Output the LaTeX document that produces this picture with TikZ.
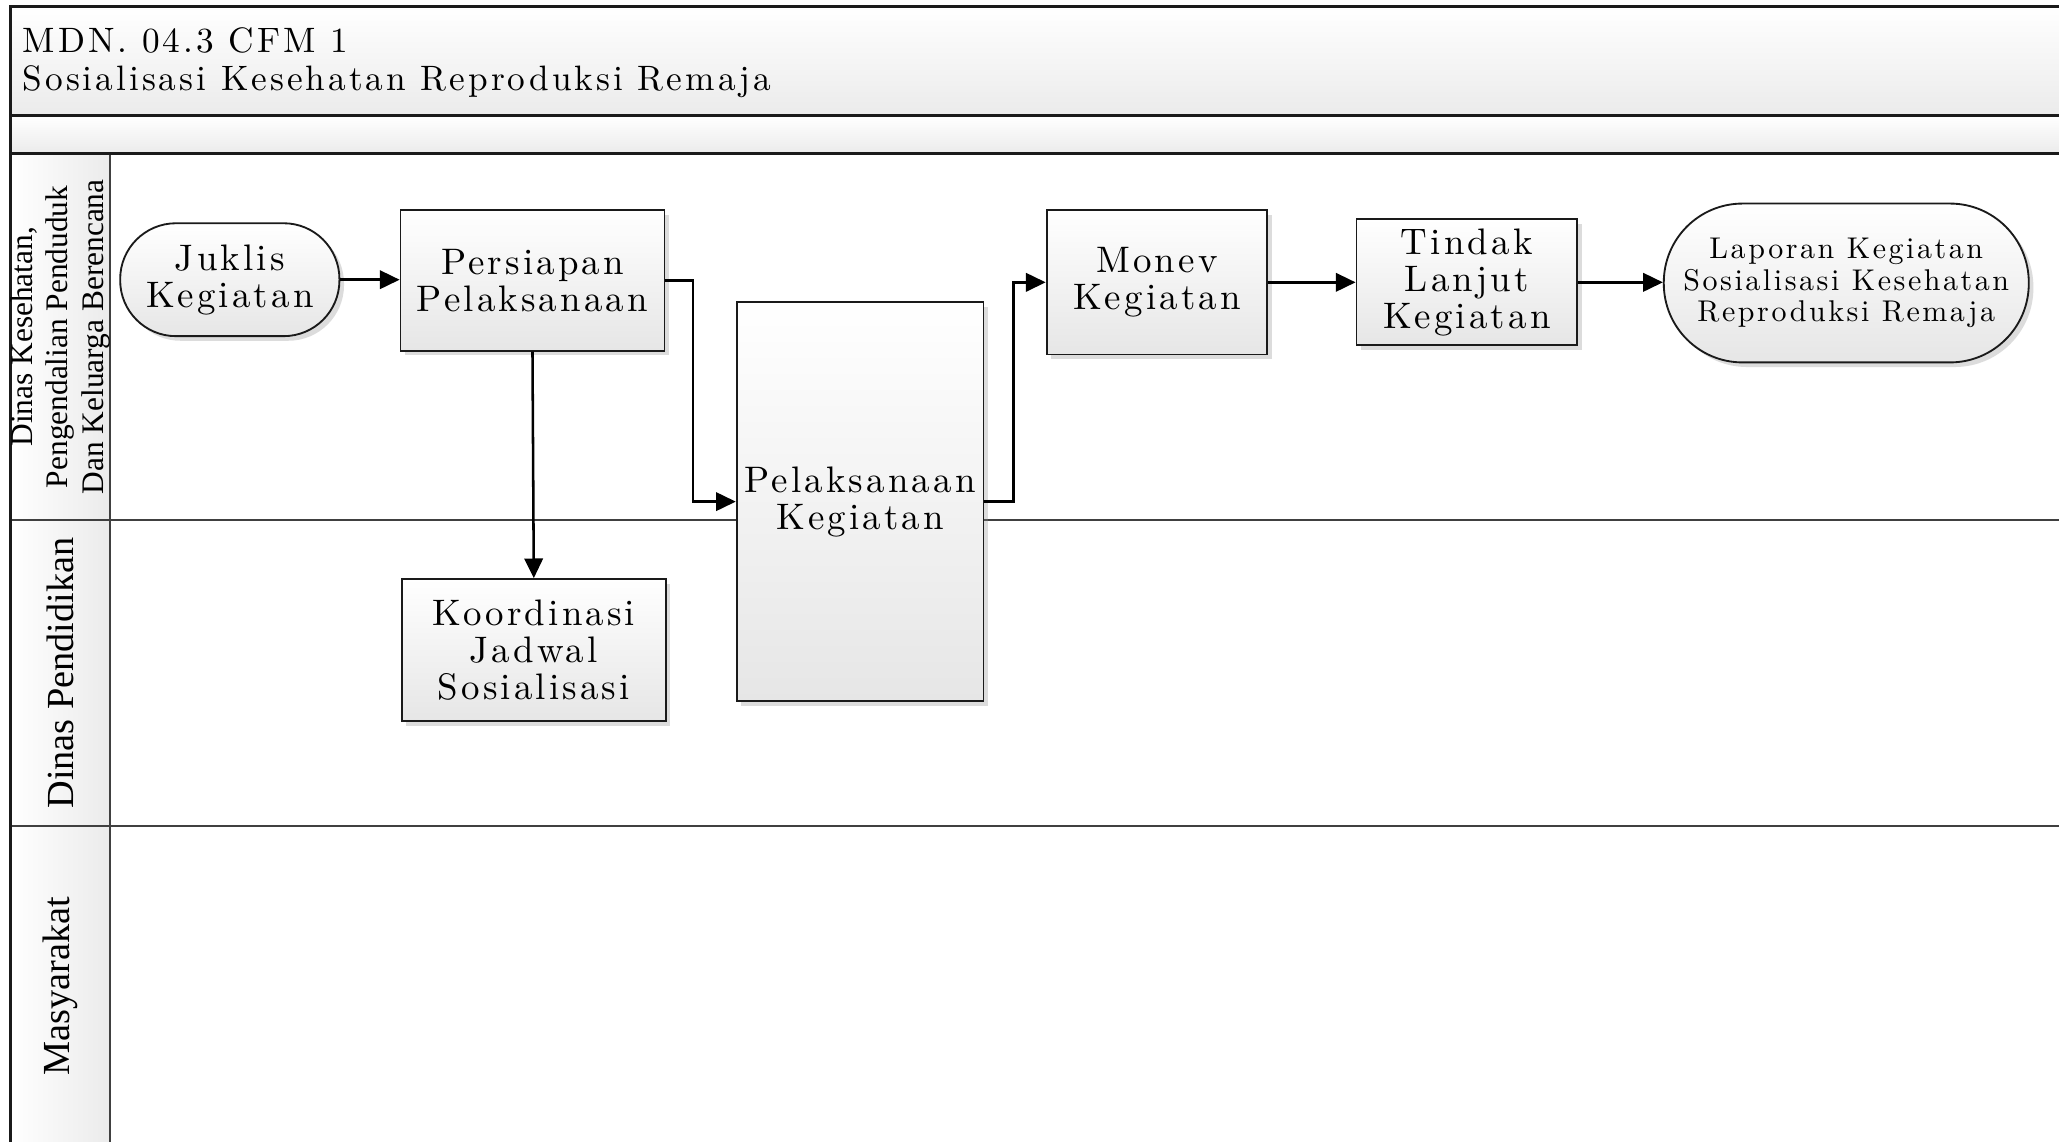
\documentclass[tikz,border=0pt]{standalone}
\usepackage{fontspec}
\newfontfamily\lanefont{Liberation Serif}
\newfontfamily\cfmText{lmroman10-regular.otf}[LetterSpace=8.5]
\usetikzlibrary{arrows.meta,shadows,positioning}
\definecolor{cfmInk}{HTML}{1A1A1A}
\definecolor{cfmLine}{HTML}{404040}
\definecolor{cfmShade}{HTML}{E6E6E6}
\definecolor{cfmHead}{HTML}{EBEBEB}
\tikzset{
  cfmFrame/.style={draw=cfmInk,line width=1.1pt},
  cfmLane/.style={draw=cfmLine,line width=0.9pt},
  cfmProcess/.style={draw=cfmInk,line width=0.8pt,top color=white,bottom color=cfmShade,
                     align=center,inner sep=2pt,font=\cfmText\fontsize{16}{16}\selectfont,
                     drop shadow={shadow xshift=2pt,shadow yshift=-2pt,opacity=0.3,fill=black!45}},
  cfmTerminal/.style={cfmProcess},
  cfmLaneText/.style={rotate=90,align=center,font=\lanefont\fontsize{16.6}{15.4}\selectfont},
  cfmFlow/.style={draw=black,line width=1.1pt,-{Triangle[length=0.3cm,width=0.28cm]}}
}

\begin{document}
\begin{tikzpicture}[x=0.02cm,y=-0.02cm]
\useasboundingbox (0,0) rectangle (1568,869);
\clip (0,0) rectangle (1568,869);
\fill[white] (0,0) rectangle (1568,869);
% title strip
\draw[cfmFrame,top color=white,bottom color=cfmHead] (8,5) rectangle (1590,88);
\draw[cfmFrame,top color=white,bottom color=cfmHead] (8,88) rectangle (1590,117);
\node[anchor=base west,align=left,inner sep=0pt,font=\cfmText\fontsize{15.3}{16.5}\selectfont] (title) at (17,69)
  {MDN. 04.3 CFM 1\\Sosialisasi Kesehatan Reproduksi Remaja};
% lanes
\shade[left color=white,right color=cfmHead] (8,117) rectangle (84,900);
\draw[cfmLane] (8,396) -- (1590,396);
\draw[cfmLane] (8,629) -- (1590,629);
\draw[cfmLane] (84,117) -- (84,900);
\draw[cfmFrame] (8,117) -- (1590,117);
\draw[cfmFrame] (8,5) -- (8,900);
\node[cfmLaneText,font=\lanefont\fontsize{13.6}{15.4}\selectfont] (laneDinkes) at (46,256.5)
  {Dinas Kesehatan,\\Pengendalian Penduduk\\Dan Keluarga Berencana};
\node[cfmLaneText] (lanePendidikan) at (46,512.5) {Dinas Pendidikan};
\node[cfmLaneText] (laneMasyarakat) at (46,751) {Masyarakat};
% steps
\node[cfmTerminal,minimum width=3.34cm,minimum height=1.72cm,rounded corners=0.85cm] (juklis) at (175,213) {Juklis\\Kegiatan};
\node[cfmProcess,minimum width=4.02cm,minimum height=2.14cm] (persiapan) at (405.5,213.5) {Persiapan\\Pelaksanaan};
\node[cfmProcess,minimum width=4.02cm,minimum height=2.16cm] (koordinasi) at (406.5,495) {Koordinasi\\Jadwal\\Sosialisasi};
\node[cfmProcess,minimum width=3.76cm,minimum height=6.08cm] (pelaksanaan) at (655,382) {Pelaksanaan\\Kegiatan};
\node[cfmProcess,minimum width=3.36cm,minimum height=2.2cm] (monev) at (881,215) {Monev\\Kegiatan};
\node[cfmProcess,minimum width=3.36cm,minimum height=1.92cm] (tindak) at (1117,215) {Tindak\\Lanjut\\Kegiatan};
\node[cfmTerminal,minimum width=5.56cm,minimum height=2.42cm,rounded corners=1.2cm,
      font=\cfmText\fontsize{13}{13.7}\selectfont] (laporan) at (1406,215.5)
  {Laporan Kegiatan\\Sosialisasi Kesehatan\\Reproduksi Remaja};
% flows
\draw[cfmFlow] (juklis.east) -- (persiapan.west |- juklis.east);
\draw[cfmFlow] (persiapan.east) -- ++(21,0) |- (pelaksanaan.west);
\draw[cfmFlow] (persiapan.south) -- (koordinasi.north);
\draw[cfmFlow] (pelaksanaan.east) -- ++(22,0) |- (monev.west);
\draw[cfmFlow] (monev) -- (tindak);
\draw[cfmFlow] (tindak.east) -- (laporan.west |- tindak.east);
\end{tikzpicture}
\end{document}
